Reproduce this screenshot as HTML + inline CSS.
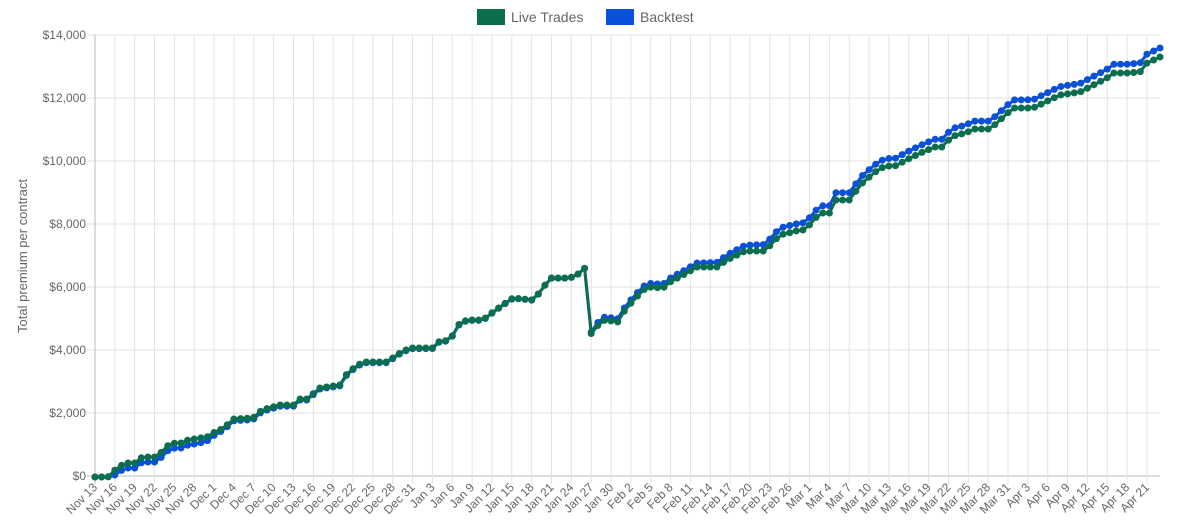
<!DOCTYPE html>
<html><head><meta charset="utf-8"><style>
html,body{margin:0;padding:0;background:#fff;width:1178px;height:527px;overflow:hidden}
svg{display:block;font-family:"Liberation Sans",Arial,sans-serif}
</style></head><body>
<svg id="c" width="1178" height="527" xmlns="http://www.w3.org/2000/svg">
<g id="g"></g>
<rect x="470" y="2" width="240" height="30" fill="#fff"/>
<rect x="477" y="9" width="28" height="16" fill="#0a6e4f"/>
<text x="511" y="22" font-size="14" fill="#666">Live Trades</text>
<rect x="606" y="9" width="28" height="16" fill="#0a50d8"/>
<text x="640" y="22" font-size="14" fill="#666">Backtest</text>
<text transform="translate(27,256) rotate(-90)" text-anchor="middle" font-size="13" fill="#666">Total premium per contract</text>
</svg>
<script>
(function(){
var NS="http://www.w3.org/2000/svg",g=document.getElementById('g');
function el(t,a,txt){var e=document.createElementNS(NS,t);for(var k in a)e.setAttribute(k,a[k]);if(txt)e.textContent=txt;g.appendChild(e);return e;}
var x0=95,dw=6.616,y0=476,yt=35,xr=1160;
function yv(v){return y0-(y0-yt)*v/14000;}
for(var i=0;i<=7;i++){var y=yv(i*2000);
el('line',{x1:x0-8,x2:xr,y1:y,y2:y,stroke:i==0?'#bbb':'#e2e2e2','stroke-width':1});
el('text',{x:86,y:y+4,'text-anchor':'end','font-size':12,fill:'#666'},'$'+(i*2000).toLocaleString('en-US'));}
var labels=[];var d=new Date(2022,10,13);
var M=['Jan','Feb','Mar','Apr','May','Jun','Jul','Aug','Sep','Oct','Nov','Dec'];
for(var k=0;k<54;k++){labels.push(M[d.getMonth()]+' '+d.getDate());d.setDate(d.getDate()+3);}
for(var k=0;k<54;k++){var x=x0+k*3*dw;
el('line',{x1:x,x2:x,y1:yt,y2:y0+8,stroke:k==0?'#bbb':'#e2e2e2','stroke-width':1});
el('text',{transform:'translate('+(x+3)+','+(y0+12)+') rotate(-45)','text-anchor':'end','font-size':12,fill:'#666'},labels[k]);}
var K=[[95,477],[108,477],[115,470],[122,465],[128,463],[137,463],[142,457],[157,457],[167,446],[175,443],[182,443],[188,440],[200,438],[207,437],[213,433],[220,430],[227,425],[233,419],[253,418],[262,410],[280,405],[297,405],[300,399],[307,399],[320,388],[340,385],[348,372],[363,362],[387,362],[400,353],[410,348],[433,348],[438,342],[450,340],[458,325],[467,320],[483,320],[493,312],[507,302],[513,298],[533,300],[540,292],[550,278],[570,278],[580,273],[585,268],[592,342],[598,325],[605,320],[618,322],[625,310],[632,302],[643,290],[650,287],[663,288],[670,282],[683,275],[697,267],[717,267],[727,260],[737,255],[745,251],[765,251],[775,240],[780,235],[800,230],[805,230],[820,213],[830,213],[835,200],[850,200],[860,185],[875,172],[885,166],[895,166],[910,158],[925,151],[935,147],[945,147],[950,137],[965,133],[975,129],[990,129],[1000,120],[1013,108],[1033,108],[1060,95],[1080,92],[1107,78],[1113,73],[1127,73],[1140,72],[1147,63],[1160,57]];
var O=[[95,0],[110,0],[115,-5],[200,-5],[220,-2],[300,-1],[588,0],[595,3],[700,4],[780,7],[1000,8],[1160,9]];
function interp(P,x){for(var i=1;i<P.length;i++){if(x<=P[i][0]){var a=P[i-1],b=P[i];var t=(x-a[0])/(b[0]-a[0]||1);return a[1]+t*(b[1]-a[1]);}}return P[P.length-1][1];}
var live=[],back=[];
for(var i=0;i<162;i++){var x=x0+i*dw;if(x>1160)x=1160;var y=interp(K,x);live.push([x,y]);var o=interp(O,x);back.push([x,Math.min(y0+1,y-o)]);}
function series(P,c){el('polyline',{points:P.map(function(p){return p[0].toFixed(1)+','+p[1].toFixed(1)}).join(' '),fill:'none',stroke:c,'stroke-width':3,'stroke-linejoin':'round'});
P.forEach(function(p){el('circle',{cx:p[0].toFixed(1),cy:p[1].toFixed(1),r:3.5,fill:c});});}
series(back,'#0a50d8');series(live,'#0a6e4f');
})();
</script>
</body></html>
